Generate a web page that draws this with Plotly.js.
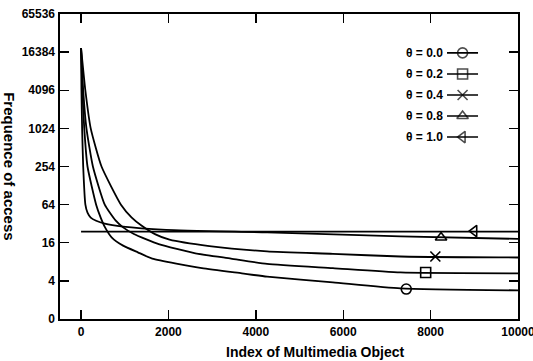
<!DOCTYPE html>
<html>
<head>
<meta charset="utf-8">
<script src="https://cdn.plot.ly/plotly-3.0.1.min.js"></script>
<style>html,body{margin:0;padding:0;background:#fff;overflow:hidden;}#chart{width:533px;height:361px;}</style>
</head>
<body>
<div id="chart"></div>
<script>
// ---- data ----
const xTicks = [0, 2000, 4000, 6000, 8000, 10000];
const yTickVals = [1, 4, 16, 64, 256, 1024, 4096, 16384, 65536];
const yTickText = ['0', '4', '16', '64', '254', '1024', '4096', '16384', '65536'];

const seriesNames = ['θ = 0.0', 'θ = 0.2', 'θ = 0.4', 'θ = 0.8', 'θ = 1.0'];
const seriesSymbols = ['circle-open', 'square-open', 'x-thin-open', 'triangle-up-open', 'triangle-left-open'];

const theta00X = [1, 30, 74, 148, 346, 450, 550, 700, 963, 1300, 1630, 2766, 3680, 4258, 5763, 7310, 10000];
const theta00Y = [19000, 4096, 1024, 256, 64, 40, 28, 19.5, 14.4, 11.3, 9.0, 6.35, 5.25, 4.66, 3.8, 3.05, 2.83];

const theta02X = [1, 50, 124, 272, 543, 790, 963, 1210, 1778, 2617, 3432, 4258, 5763, 7310, 10000];
const theta02Y = [19000, 4096, 1024, 256, 64, 36, 28, 22, 15.2, 10.9, 9.0, 7.4, 6.35, 5.43, 5.25];

const theta04X = [1, 99, 222, 469, 914, 1161, 1383, 1704, 2025, 2938, 4258, 5763, 7310, 10000];
const theta04Y = [19000, 4096, 1024, 256, 64, 40, 30, 21.7, 17.9, 14.2, 11.7, 10.7, 9.7, 9.35];

const theta08X = [1, 10, 25, 50, 100, 148, 222, 346, 543, 963, 1950, 4258, 7310, 10000];
const theta08Y = [19000, 4096, 1024, 256, 64, 47.8, 40, 35.6, 32, 28.7, 25.6, 23.4, 20.2, 18.4];

const theta10X = [1, 2000, 4000, 6000, 8000, 10000];
const theta10Y = [24, 24, 24, 24, 24, 24];

const markerX = [7443, 7887, 8109, 8239, 8998];
const markerY = [2.97, 5.43, 9.7, 19.4, 24.5];

// ---- build chart ----
const curvesX = [theta00X, theta02X, theta04X, theta08X, theta10X];
const curvesY = [theta00Y, theta02Y, theta04Y, theta08Y, theta10Y];
const FONT = 'Liberation Sans, Arial, Helvetica, sans-serif';

const traces = [];
curvesX.forEach((xs, i) => {
  traces.push({
    x: xs, y: curvesY[i], mode: 'lines', type: 'scatter',
    line: {color: '#000', width: 1.8, shape: 'spline', smoothing: 0.5},
    showlegend: false, hoverinfo: 'skip'
  });
  traces.push({
    x: [markerX[i]], y: [markerY[i]], mode: 'markers', type: 'scatter',
    marker: {symbol: seriesSymbols[i], size: 10, color: '#000', line: {color: '#000', width: 1.6}},
    showlegend: false, hoverinfo: 'skip'
  });
});

// hand-made legend (text on the left, sample on the right) on an overlay axis
const annotations = [];
const rowCount = seriesNames.length;
seriesNames.forEach((name, i) => {
  const row = rowCount - 1 - i;
  traces.push({
    x: [0, 0.5, 1], y: [row, row, row], xaxis: 'x2', yaxis: 'y2',
    mode: 'lines+markers', type: 'scatter',
    line: {color: '#000', width: 1.6},
    marker: {symbol: seriesSymbols[i], size: [0, 10, 0], color: '#000', line: {color: '#000', width: 1.6}},
    showlegend: false, hoverinfo: 'skip'
  });
  annotations.push({
    xref: 'x2 domain', yref: 'y2', x: -0.06, y: row, xanchor: 'right', yanchor: 'middle',
    text: name, showarrow: false, font: {family: FONT, size: 12, color: '#000', weight: 700}
  });
});

annotations.push({
  xref: 'paper', yref: 'paper', x: 0.557, y: -0.108, xanchor: 'center', yanchor: 'middle',
  text: 'Index of Multimedia Object', showarrow: false,
  font: {family: FONT, size: 14, color: '#000', weight: 700}
});
annotations.push({
  xref: 'paper', yref: 'paper', x: -0.112, y: 0.502, xanchor: 'center', yanchor: 'middle',
  text: 'Frequence of access', textangle: 90, showarrow: false,
  font: {family: FONT, size: 15, color: '#000', weight: 700}
});

const axisCommon = {
  showline: true, linecolor: '#000', linewidth: 1.6, mirror: 'ticks',
  ticks: 'inside', ticklen: 9, tickwidth: 1.4, tickcolor: '#000',
  showgrid: false, zeroline: false, ticklabeloverflow: 'allow',
  tickfont: {family: FONT, size: 12, color: '#000', weight: 700}
};

const layout = {
  width: 533, height: 361,
  margin: {l: 60, r: 15, t: 14, b: 42},
  paper_bgcolor: '#fff', plot_bgcolor: '#fff',
  showlegend: false,
  xaxis: Object.assign({}, axisCommon, {
    range: [-481, 10000], tickvals: xTicks, ticktext: xTicks.map(String), ticklabelstandoff: 1
  }),
  yaxis: Object.assign({}, axisCommon, {
    type: 'log', range: [0, Math.log10(65536)], tickvals: yTickVals, ticktext: yTickText,
    ticklabelstandoff: 1
  }),
  xaxis2: {domain: [0.845, 0.913], range: [0, 1], visible: false, anchor: 'y2', fixedrange: true},
  yaxis2: {domain: [0.562, 0.907], range: [-0.5, rowCount - 0.5], visible: false, anchor: 'x2', fixedrange: true},
  annotations: annotations
};

Plotly.newPlot('chart', traces, layout, {displayModeBar: false, staticPlot: true});
</script>
</body>
</html>
